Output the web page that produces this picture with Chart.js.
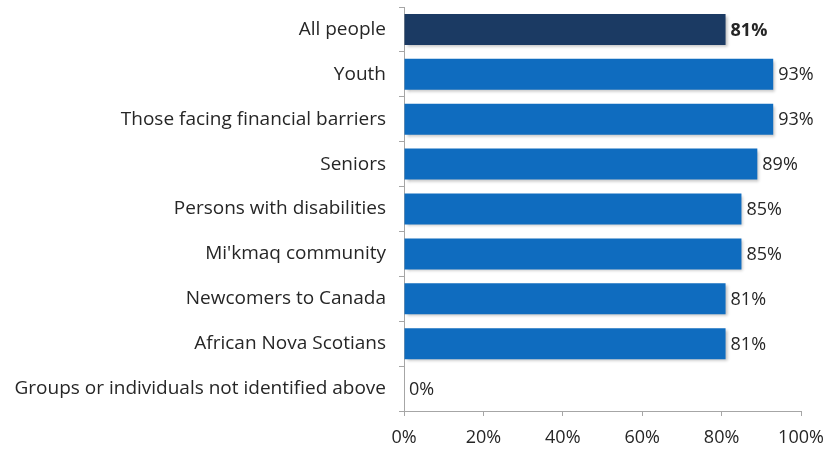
<!DOCTYPE html>
<html>
<head>
<meta charset="utf-8">
<script src="https://cdn.jsdelivr.net/npm/chart.js@4.4.1/dist/chart.umd.min.js"></script>
<style>
  html, body { margin: 0; padding: 0; background: #fff; }
  #wrap { width: 827px; height: 450px; }
</style>
</head>
<body>
<div id="wrap"><canvas id="chart"></canvas></div>
<script>
const categories = [
    'All people',
    'Youth',
    'Those facing financial barriers',
    'Seniors',
    'Persons with disabilities',
    "Mi'kmaq community",
    'Newcomers to Canada',
    'African Nova Scotians',
    'Groups or individuals not identified above'
];
const values = [81, 93, 93, 89, 85, 85, 81, 81, 0];
const xTicks = [0, 20, 40, 60, 80, 100];

const barColors = values.map((v, i) => i === 0 ? '#1b3a63' : '#0f6cbf');
const fontFamily = '"Open Sans", "Liberation Sans", sans-serif';

// draws the percent labels to the right of each bar
const valueLabels = {
    id: 'valueLabels',
    afterDatasetsDraw(chart) {
        const ctx = chart.ctx;
        const meta = chart.getDatasetMeta(0);
        ctx.save();
        ctx.textBaseline = 'middle';
        ctx.textAlign = 'left';
        ctx.fillStyle = '#262626';
        meta.data.forEach((bar, i) => {
            ctx.font = (i === 0 ? 'bold ' : '') + '18px ' + fontFamily;
            ctx.fillText(values[i] + '%', bar.x + 5, bar.y + 1);
        });
        ctx.restore();
    }
};

// soft shadow behind bars
const barShadow = {
    id: 'barShadow',
    beforeDatasetDraw(chart) {
        const ctx = chart.ctx;
        ctx.save();
        ctx.shadowColor = 'rgba(0,0,0,0.25)';
        ctx.shadowBlur = 3;
        ctx.shadowOffsetX = 2;
        ctx.shadowOffsetY = 2;
    },
    afterDatasetDraw(chart) {
        chart.ctx.restore();
    }
};

new Chart(document.getElementById('chart').getContext('2d'), {
    type: 'bar',
    data: {
        labels: categories,
        datasets: [{
            data: values,
            backgroundColor: barColors,
            borderWidth: 0,
            categoryPercentage: 1,
            barPercentage: 0.69
        }]
    },
    options: {
        indexAxis: 'y',
        responsive: true,
        maintainAspectRatio: false,
        animation: false,
        layout: { padding: { top: 7, right: 26, left: 0, bottom: 0 } },
        plugins: {
            legend: { display: false },
            tooltip: { enabled: false }
        },
        scales: {
            x: {
                min: 0,
                max: 100,
                afterBuildTicks(scale) {
                    scale.ticks = xTicks.map(v => ({ value: v }));
                },
                afterFit(scale) {
                    scale.height = 39;
                    scale.paddingLeft = 0;
                    scale.paddingRight = 0;
                },
                border: { display: true, color: '#a6a6a6', width: 1 },
                grid: {
                    drawOnChartArea: false,
                    drawTicks: true,
                    tickLength: 5,
                    color: '#a6a6a6'
                },
                ticks: {
                    padding: 11,
                    color: '#262626',
                    font: { family: fontFamily, size: 18 },
                    maxRotation: 0,
                    callback: v => v + '%'
                }
            },
            y: {
                afterFit(scale) {
                    scale.width = 404;
                    scale.paddingTop = 0;
                    scale.paddingBottom = 0;
                },
                border: { display: true, color: '#a6a6a6', width: 1 },
                grid: {
                    offset: true,
                    drawOnChartArea: false,
                    drawTicks: true,
                    tickLength: 5,
                    color: '#a6a6a6'
                },
                ticks: {
                    padding: 13,
                    color: '#262626',
                    font: { family: fontFamily, size: 19 },
                    autoSkip: false
                }
            }
        }
    },
    plugins: [barShadow, valueLabels]
});
</script>
</body>
</html>
